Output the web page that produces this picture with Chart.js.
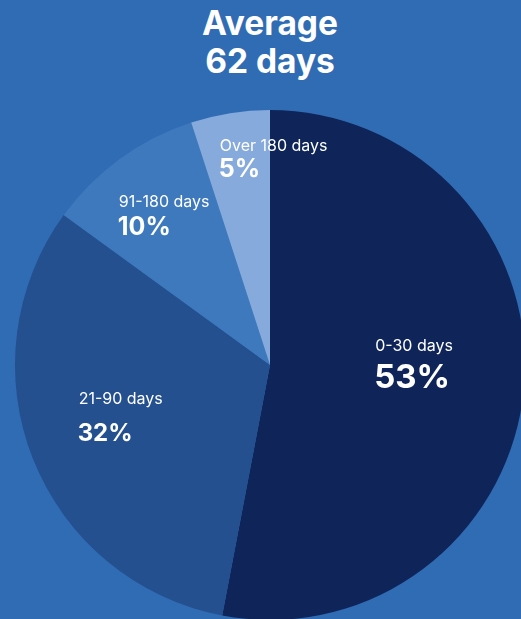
<!DOCTYPE html>
<html>
<head>
    <title>Average days</title>
    <meta charset="UTF-8">
    <script src="https://cdn.jsdelivr.net/npm/chart.js"></script>
    <style>
        html, body {
            margin: 0;
            padding: 0;
            width: 521px;
            height: 619px;
            overflow: hidden;
            background: #306cb4;
            font-family: Inter, "Noto Sans", sans-serif;
        }
        #title {
            position: absolute;
            left: 150px;
            width: 240px;
            top: 4px;
            text-align: center;
            color: #fff;
            font-weight: 700;
            font-size: 33.5px;
            line-height: 38px;
        }
        #wrap {
            position: absolute;
            left: 15px;
            top: 110px;
            width: 510px;
            height: 510px;
        }
    </style>
</head>
<body>
    <div id="title">Average<br>62 days</div>
    <div id="wrap"><canvas id="pie_chart"></canvas></div>
    <script>
        var categories = ['0-30 days', '21-90 days', '91-180 days', 'Over 180 days'];
        var shares = [53, 32, 10, 5];
        var colors = ['#0f2559', '#24508f', '#3f79bd', '#86aadb'];

        // label placement per slice: fraction of radius, turn from the slice middle (deg),
        // font size of the percentage and distance between the two baselines
        var labelRadius = [0.565, 0.62, 0.72, 0.81];
        var labelTurn = [-5.8, 2.4, 0.8, 10];
        var pctSize = [33, 24, 25, 25];
        var lineGap = [37, 37, 28, 26];
        var FONT = 'Inter, "Noto Sans", sans-serif';

        // draws the category name and percentage inside each slice
        var sliceLabels = {
            id: 'sliceLabels',
            afterDatasetsDraw: function(chart) {
                var ctx = chart.ctx;
                var meta = chart.getDatasetMeta(0);
                meta.data.forEach(function(arc, i) {
                    var mid = (arc.startAngle + arc.endAngle) / 2 + labelTurn[i] * Math.PI / 180;
                    var r = arc.outerRadius * labelRadius[i];
                    var x = arc.x + Math.cos(mid) * r;
                    var y = arc.y + Math.sin(mid) * r;
                    var name = categories[i];
                    var pct = shares[i] + '%';

                    ctx.save();
                    ctx.fillStyle = '#ffffff';
                    ctx.textBaseline = 'alphabetic';
                    ctx.textAlign = 'left';
                    ctx.font = '400 16px ' + FONT;
                    var w1 = ctx.measureText(name).width;
                    ctx.font = '700 ' + pctSize[i] + 'px ' + FONT;
                    var w2 = ctx.measureText(pct).width;
                    var left = x - Math.max(w1, w2) / 2;
                    // block runs from the name's cap top to the percentage baseline
                    var h = 12 + lineGap[i];
                    var top = y - h / 2;

                    ctx.font = '400 16px ' + FONT;
                    ctx.fillText(name, left, top + 12);
                    ctx.font = '700 ' + pctSize[i] + 'px ' + FONT;
                    ctx.fillText(pct, left - 1, top + 12 + lineGap[i]);
                    ctx.restore();
                });
            }
        };

        var ctx = document.getElementById('pie_chart').getContext('2d');
        var chart = new Chart(ctx, {
            type: 'pie',
            data: {
                labels: categories,
                datasets: [{
                    data: shares,
                    backgroundColor: colors,
                    borderWidth: 0
                }]
            },
            options: {
                responsive: true,
                maintainAspectRatio: false,
                animation: false,
                layout: { padding: 0 },
                plugins: {
                    legend: { display: false },
                    tooltip: { enabled: false }
                }
            },
            plugins: [sliceLabels]
        });
    </script>
</body>
</html>
